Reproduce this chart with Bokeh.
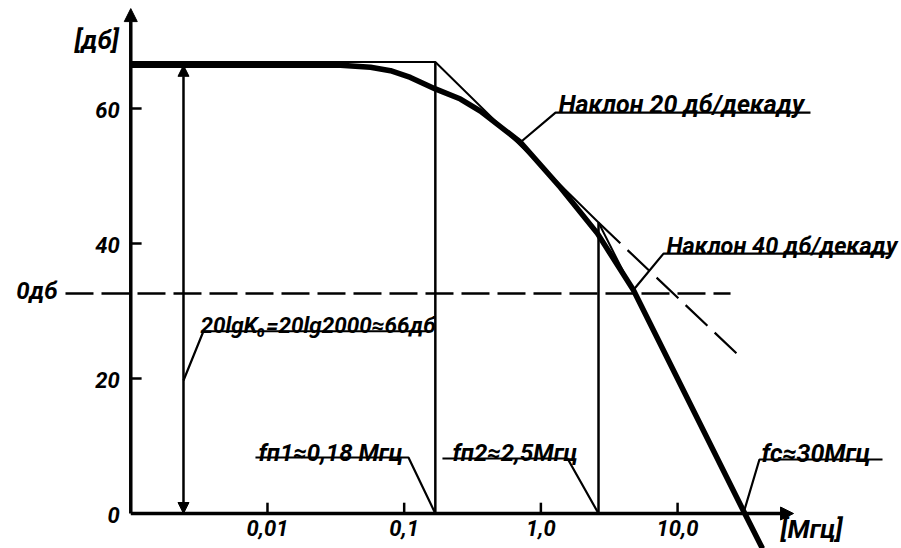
from bokeh.plotting import figure
from bokeh.models import Label, Arrow, NormalHead, Range1d, ColumnDataSource
from bokeh.core.properties import value
from bokeh.embed import file_html
from bokeh.resources import INLINE

# ---------------- data ----------------
x_ticks = [0.01, 0.1, 1.0, 10.0]
x_tick_labels = ["0,01", "0,1", "1,0", "10,0"]
y_ticks = [0, 20, 40, 60]
y_tick_labels = ["0", "20", "40", "60"]

# measured amplitude response (thick curve): frequency [MHz], gain [dB]
resp_f = [0.001, 0.0342, 0.0567, 0.0794, 0.111, 0.169, 0.258, 0.361, 0.709, 1.39, 2.59, 4.75, 30.3, 41.8]
resp_db = [66.4, 66.4, 66.1, 65.6, 64.6, 62.9, 61.4, 59.6, 55.0, 48.3, 41.5, 33.1, 0.4, -5.2]

# asymptotic (broken-line) response
asym_f = [0.001, 0.169, 2.64, 30.3]
asym_db = [66.9, 66.9, 43.1, 0.7]
# continuation of the 20 dB/decade slope (dashed)
ext20_f = [2.64, 27.4]
ext20_db = [43.1, 23.6]

fp1 = 0.169      # first pole  (label 0,18 MHz)
fp2 = 2.64       # second pole (label 2,5 MHz)
fc = 30.3        # crossover frequency
k0_db = 66.4     # 20 lg K0
level_db = 32.6  # "0 dB" dashed reference line
level_f = [0.000333, 24.4]
arrow_f = 0.00243

# axis extents
x_min, x_max = 0.001, 70.5
y_min, y_max = 0.0, 74.8

# ---------------- figure ----------------
FONT = "Roboto"
p = figure(width=901, height=548, x_axis_type="log",
           x_range=Range1d(10 ** -3.953, 10 ** 2.638), y_range=Range1d(-5.185, 76.0),
           output_backend="svg", toolbar_location=None,
           min_border=0)
p.xaxis.visible = False
p.yaxis.visible = False
p.grid.visible = False
p.outline_line_color = None
p.background_fill_color = "white"
p.border_fill_color = "white"

# ---- axes (drawn at x = 0.001 MHz and y = 0 dB) ----
p.add_layout(Arrow(end=NormalHead(size=13, fill_color="black", line_color="black"),
                   x_start=x_min, y_start=y_min, x_end=x_max, y_end=y_min,
                   line_color="black", line_width=3.5))
p.add_layout(Arrow(end=NormalHead(size=13, fill_color="black", line_color="black"),
                   x_start=x_min, y_start=y_min, x_end=x_min, y_end=y_max,
                   line_color="black", line_width=3.5))

xt = ColumnDataSource(dict(x=x_ticks, y0=[y_min] * len(x_ticks), y1=[y_min + 1.6] * len(x_ticks),
                           text=x_tick_labels))
yt = ColumnDataSource(dict(y=y_ticks[1:], x0=[x_min] * 3, x1=[x_min * 1.2] * 3))
yl = ColumnDataSource(dict(y=y_ticks, x=[x_min] * len(y_ticks), text=y_tick_labels))
p.segment(x0="x", y0="y0", x1="x", y1="y1", source=xt, line_color="black", line_width=2.5)
p.segment(x0="x0", y0="y", x1="x1", y1="y", source=yt, line_color="black", line_width=2.5)
p.text(x="x", y="y0", text="text", source=xt, text_font=value(FONT), text_font_style="bold italic",
       text_font_size="22px", text_align="center", text_baseline="top", y_offset=6, text_color="black")
p.text(x="x", y="y", text="text", source=yl, text_font=value(FONT), text_font_style="bold italic",
       text_font_size="22px", text_align="right", text_baseline="middle", x_offset=-11, y_offset=1,
       text_color="black")

# asymptotes
p.line(asym_f, asym_db, line_color="black", line_width=2)
p.line(ext20_f, ext20_db, line_color="black", line_width=2.2, line_dash="30 10")

# vertical lines at the poles
p.segment(x0=[fp1, fp2], y0=[0, 0], x1=[fp1, fp2], y1=[asym_db[1], asym_db[2]],
          line_color="black", line_width=2.5)

# dashed "0 dB" reference level
p.line(level_f, [level_db, level_db], line_color="black", line_width=2.5, line_dash="28 8")

# actual response
p.line(resp_f, resp_db, line_color="black", line_width=5.5, line_join="round")

# double arrow for 20 lg K0
p.add_layout(Arrow(start=NormalHead(size=11, fill_color="black", line_color="black"),
                   end=NormalHead(size=11, fill_color="black", line_color="black"),
                   x_start=arrow_f, y_start=0, x_end=arrow_f, y_end=k0_db,
                   line_color="black", line_width=2.5))

# leader lines (polyline: point on chart -> underline)
leaders_x = [
    [0.709, 1.28, 93.8],
    [4.75, 7.89, 360.0],
    [arrow_f, 0.0034, 0.1557],
    [0.00817, 0.1075, fp1],
    [0.1905, 1.566, fp2],
    [315.6, 39.7, fc],
]
leaders_y = [
    [55.0, 59.4, 59.4],
    [33.1, 38.5, 38.5],
    [19.7, 27.0, 27.0],
    [8.3, 8.3, 0.0],
    [8.15, 8.15, 0.0],
    [8.0, 8.0, 0.0],
]
p.multi_line(leaders_x, leaders_y, line_color="black", line_width=2.2)


def lab(x, y, text, size="24px", align="left", baseline="alphabetic", x_offset=0):
    p.add_layout(Label(x=x, y=y, text=text, text_font=FONT, text_font_style="bold italic",
                       text_font_size=size, text_align=align, text_baseline=baseline,
                       x_offset=x_offset, text_color="black"))


lab(1.345, 60.6, "Наклон 20 дб/декаду", "25px")
lab(8.30, 39.6, "Наклон 40 дб/декаду", "23.5px")
lab(0.003236, 28.0, "20lgK₀=20lg2000≈66дб", "22.5px")
lab(0.00859, 9.0, "fп1≈0,18 Мгц", "24px")
lab(0.2256, 9.0, "fп2≈2,5Мгц", "24px")
lab(41.1, 8.9, "fc≈30Мгц", "25px")

lab(x_min, 70.2, "[дб]", "26px", align="right", baseline="middle", x_offset=-12)
lab(95.5, -2.37, "[Мгц]", "26px", align="center", baseline="middle")
lab(0.000291, 32.9, "0дб", "24px", align="right", baseline="middle")

open("out.html", "w").write(file_html(p, INLINE))
